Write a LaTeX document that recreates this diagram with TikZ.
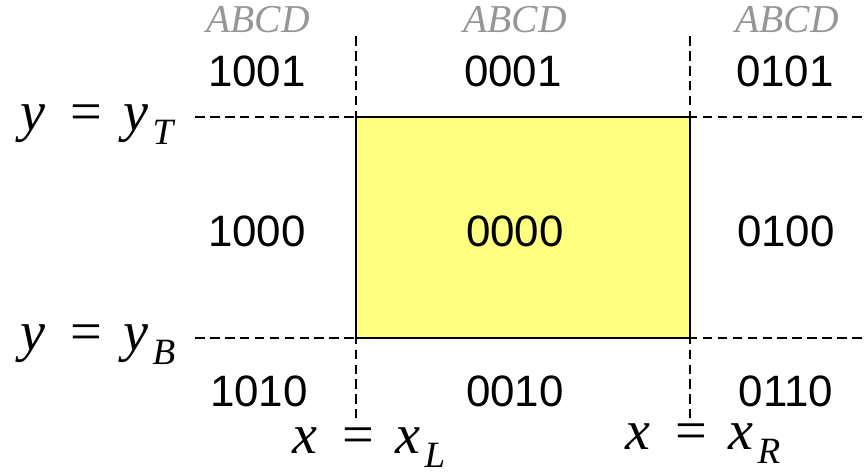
\documentclass[tikz,border=0pt]{standalone}
\usepackage{fontspec}
\setmainfont{Liberation Serif}
\newfontfamily\arial{Liberation Sans}
\usepackage{graphicx}
\usepackage{xcolor}
\definecolor{clipyellow}{RGB}{255,255,128}
\definecolor{codegray}{RGB}{150,150,150}
\usepackage{tikz}
\usetikzlibrary{positioning}

\newcommand{\bndlabel}[2]{{\itshape #1}\hspace{0.44em}=\hspace{0.38em}{\itshape #1}\hspace{0.08em}\raisebox{-8.5pt}{\scalebox{0.66}{\itshape #2}}}

\tikzset{
  bnd/.style={black, line width=1.1pt, dash pattern=on 5.5pt off 3pt},
  outcode/.style={anchor=base, inner sep=0pt, font=\arial\fontsize{25}{25}\selectfont},
  bitnames/.style={anchor=base, inner sep=0pt, codegray, font=\fontsize{22.5}{22.5}\selectfont\itshape},
  bndtext/.style={anchor=base west, inner sep=0pt, font=\fontsize{32}{32}\selectfont}
}

\begin{document}
\begin{tikzpicture}[x=0.02cm, y=-0.02cm]
  \useasboundingbox (0,0) rectangle (865,474);

  % Window corners
  \coordinate (wTL) at (356,117);
  \coordinate (wBR) at (690,338);

  % Clip window
  \draw[fill=clipyellow, line width=1.2pt] (wTL) rectangle (wBR);

  % Boundary lines
  \draw[bnd] (195,117) -- (865,117);
  \draw[bnd] (195,338) -- (865,338);
  \draw[bnd] (356,36) -- (356,418);
  \draw[bnd] (690,36) -- (690,418);

  % --- Bit names ---
  \node[bitnames] (bitsL) at (258,32) {ABCD};
  \node[bitnames] (bitsM) at (515,32) {ABCD};
  \node[bitnames] (bitsR) at (787,32) {ABCD};

  % --- Region codes ---
  \node[outcode] (c1001) at (257,86) {1001};
  \node[outcode] (c0001) at (513,86) {0001};
  \node[outcode] (c0101) at (785,86) {0101};
  \node[outcode] (c1000) at (257,246) {1000};
  \node[outcode] (c0000) at (515,246) {0000};
  \node[outcode] (c0100) at (786,246) {0100};
  \node[outcode] (c1010) at (259,406) {1010};
  \node[outcode] (c0010) at (515,406) {0010};
  \node[outcode] (c0110) at (786,406) {0110};

  % --- Boundary equations ---
  \node[bndtext] (yT) at (20,130) {\bndlabel{y}{T}};
  \node[bndtext] (yB) at (20,350) {\bndlabel{y}{B}};
  \node[bndtext] (xL) at (292,453) {\bndlabel{x}{L}};
  \node[bndtext] (xR) at (625,449) {\bndlabel{x}{R}};
\end{tikzpicture}
\end{document}
